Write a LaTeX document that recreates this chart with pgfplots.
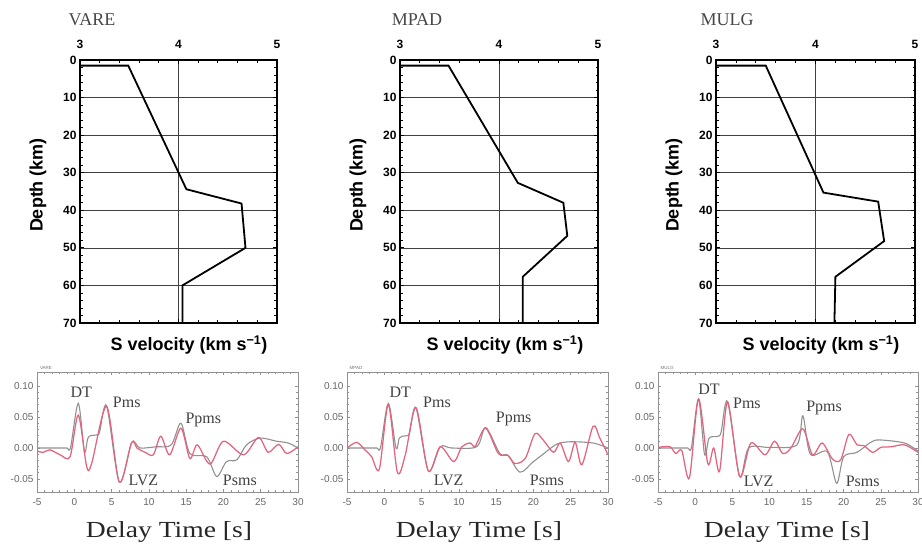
\documentclass[border=0pt]{standalone}
\usepackage{fontspec}
\setmainfont{Liberation Serif}
\setsansfont{Liberation Sans}
\usepackage{graphicx}
\usepackage{pgfplots}
\pgfplotsset{compat=1.18}
\definecolor{synth}{RGB}{145,145,145}
\definecolor{obs}{RGB}{226,100,125}
\definecolor{anno}{RGB}{65,65,65}
\pgfplotsset{
  vel/.style={
    scale only axis, anchor=north west, width=197pt, height=263pt,
    xmin=3, xmax=5, ymin=0, ymax=70, y dir=reverse,
    xtick={3,4,5}, ytick={0,10,...,70},
    minor x tick num=4, minor y tick num=4,
    xticklabel pos=upper,
    xmajorgrids, ymajorgrids,
    grid style={black!75, line width=0.6pt},
    axis line style={line width=1.4pt},
    major tick length=4pt, minor tick length=2.5pt,
    tick style={black, line width=0.8pt},
    /pgf/number format/assume math mode=true,
    ticklabel style={font=\sffamily\bfseries\fontsize{12}{12}\selectfont},
    xticklabel style={yshift=8pt},
  },
  rf/.style={
    scale only axis, anchor=north west, width=261pt, height=120pt,
    xmin=-5, xmax=30, ymin=-0.071, ymax=0.1226,
    xtick={-5,0,...,30}, ytick={-0.05,0,0.05,0.10},
    minor x tick num=4, minor y tick num=4,
    axis line style={synth, line width=0.8pt},
    tick style={synth, line width=0.6pt},
    major tick length=3pt, minor tick length=1.8pt,
    /pgf/number format/assume math mode=true,
    yticklabel style={/pgf/number format/.cd, fixed, fixed zerofill, precision=2},
    ticklabel style={font=\sffamily\fontsize{10}{10}\selectfont, text=black!60},
    xticklabel style={yshift=-3pt},
    every axis plot/.append style={smooth, tension=0.5},
  },
  sy/.style={synth, line width=1.1pt},
  ob/.style={obs, line width=1.25pt},
  prof/.style={black, line width=1.8pt},
}
\newcommand{\ann}[3]{\node[anno, font=\fontsize{16}{16}\selectfont] at (axis cs:#1,#2) {#3};}
\begin{document}
\begin{tikzpicture}
\useasboundingbox (0,0) rectangle (922pt,-545pt);
% ---------- velocity profiles ----------
\begin{axis}[vel, at={(80pt,-60pt)}]
\addplot[prof] coordinates {(3,1.5) (3.49,1.5) (4.08,34.4) (4.64,38.2) (4.68,50) (4.04,60) (4.04,70)};
\end{axis}
\begin{axis}[vel, at={(400pt,-60pt)}, width=198pt]
\addplot[prof] coordinates {(3,1.5) (3.49,1.5) (4.19,32.7) (4.65,38) (4.69,46.8) (4.24,57.7) (4.24,70)};
\end{axis}
\begin{axis}[vel, at={(716pt,-60pt)}, width=199pt]
\addplot[prof] coordinates {(3,1.5) (3.50,1.5) (4.08,35.3) (4.63,37.7) (4.69,48.2) (4.20,57.7) (4.19,70)};
\end{axis}
% ---------- receiver functions ----------
\begin{axis}[rf, at={(37pt,-372pt)}]
\addplot[sy] coordinates {(-5,0) (-2,0) (-1,0) (-0.5,0.001) (0.54,0.072) (1.35,-0.006) (1.8,0.015) (2.2,0.020) (3.0,0.021) (3.4,0.026) (4.34,0.068) (6.04,-0.055) (7.7,0.009) (8.8,0) (11,0.002) (13.0,0.005) (14.3,0.040) (15.5,-0.009) (17.75,-0.014) (19.1,-0.046) (20.4,-0.022) (21.8,-0.019) (23.1,0.005) (24.9,0.016) (27.1,0.011) (28.7,0.008) (30,0)};
\addplot[ob] coordinates {(-5,-0.005) (-4.15,-0.007) (-3.26,-0.003) (-1.9,-0.011) (-0.57,-0.014) (0.54,0.053) (1.66,-0.030) (2.33,-0.025) (4.34,0.067) (6.04,-0.055) (7.7,0.009) (8.4,0) (9.5,-0.007) (10.6,-0.011) (11.6,0.019) (12.8,-0.011) (14.3,0.032) (15.5,-0.017) (16.5,0.005) (18.2,-0.026) (20.0,0.011) (22.7,-0.011) (24.7,0.017) (26.0,-0.007) (27.4,0.006) (28.5,-0.009) (30,0.002)};
\ann{0.93}{0.090}{DT}
\ann{7.04}{0.073}{Pms}
\ann{17.3}{0.046}{Ppms}
\ann{9.27}{-0.052}{LVZ}
\ann{22.2}{-0.052}{Psms}
\end{axis}
\begin{axis}[rf, at={(347pt,-372pt)}]
\addplot[sy] coordinates {(-5,0) (-2,0) (-1,0) (-0.5,0.001) (0.54,0.072) (1.57,0) (2.0,0.016) (2.4,0.019) (3.1,0.020) (3.4,0.025) (4.25,0.065) (5.9,-0.037) (7.5,0.002) (9,0) (12.4,0.002) (13.6,0.033) (15.5,-0.009) (16.6,-0.012) (18.2,-0.039) (20.0,-0.022) (21.3,-0.010) (23.1,0.006) (24.9,0.010) (28,0.008) (30,0)};
\addplot[ob] coordinates {(-5,0) (-3.7,0.009) (-2.6,-0.003) (-1.7,-0.014) (-0.66,-0.034) (0.54,0.070) (1.75,-0.039) (2.8,-0.012) (4.25,0.065) (5.9,-0.037) (7.5,0.002) (9.3,-0.022) (10.4,0.002) (11.5,0.008) (12.2,0.003) (13.6,0.032) (15.3,-0.009) (16.6,-0.012) (17.5,-0.025) (18.9,-0.017) (20.2,0.023) (21.3,0.013) (22.7,-0.007) (23.6,0.008) (24.7,-0.022) (25.6,0.009) (26.5,-0.027) (28.0,0.035) (28.9,0.016) (30,-0.011)};
\ann{2.15}{0.090}{DT}
\ann{7.07}{0.073}{Pms}
\ann{17.35}{0.047}{Ppms}
\ann{8.63}{-0.052}{LVZ}
\ann{21.8}{-0.052}{Psms}
\end{axis}
\begin{axis}[rf, at={(658pt,-372pt)}, width=260pt]
\addplot[sy] coordinates {(-5,0) (-2,0) (-1,0) (-0.5,0.001) (0.45,0.079) (1.26,-0.010) (1.8,0.014) (2.2,0.018) (3.1,0.019) (3.5,0.026) (4.37,0.075) (5.99,-0.046) (7.2,0) (10,0.001) (13.7,0.005) (14.5,0.052) (15.5,-0.010) (17.8,-0.006) (19.05,-0.057) (20.0,-0.014) (21.8,-0.007) (23.6,0.009) (24.8,0.013) (28.2,0.008) (30,-0.005)};
\addplot[ob] coordinates {(-5,0.001) (-3.4,0.002) (-2.6,-0.009) (-1.8,-0.004) (-0.77,-0.048) (0.45,0.079) (1.7,-0.025) (2.5,0) (3.3,-0.037) (4.37,0.074) (5.99,-0.046) (7.5,0.008) (9.4,-0.011) (10.7,0.011) (11.8,-0.009) (12.9,0) (14.5,0.031) (15.8,-0.011) (17.1,0.008) (18.5,-0.018) (19.6,-0.019) (20.7,0.022) (21.8,0.005) (22.7,0.004) (23.9,-0.007) (25.0,0.001) (26.4,0.002) (28.2,0.005) (30,-0.007)};
\ann{1.87}{0.095}{DT}
\ann{6.97}{0.0715}{Pms}
\ann{17.36}{0.0645}{Ppms}
\ann{8.55}{-0.054}{LVZ}
\ann{22.55}{-0.054}{Psms}
\end{axis}
% ---------- labels ----------
\foreach \x/\t in {92/VARE, 417/MPAD, 727/MULG}
  \node[text=black!72, font=\fontsize{18}{18}\selectfont] at (\x pt,-20pt) {\t};
\foreach \x in {38, 358, 674}
  \node[rotate=90, font=\sffamily\bfseries\fontsize{18}{18}\selectfont] at (\x pt,-185pt) {Depth (km)};
\foreach \x in {189, 505, 821}
  \node[font=\sffamily\bfseries\fontsize{18}{18}\selectfont] at (\x pt,-345pt) {S velocity (km s\textsuperscript{−1})};
\foreach \x in {169, 479, 787}
  \node[anchor=base, text=black!85, font=\fontsize{23}{23}\selectfont] at (\x pt,-537pt) {\scalebox{1.2}[1]{Delay Time [s]}};
\foreach \x/\t in {46/VARE, 356/MPAD, 667/MULG}
  \node[text=black!55, font=\sffamily\fontsize{4.5}{4.5}\selectfont] at (\x pt,-368pt) {\t};
\end{tikzpicture}
\end{document}
